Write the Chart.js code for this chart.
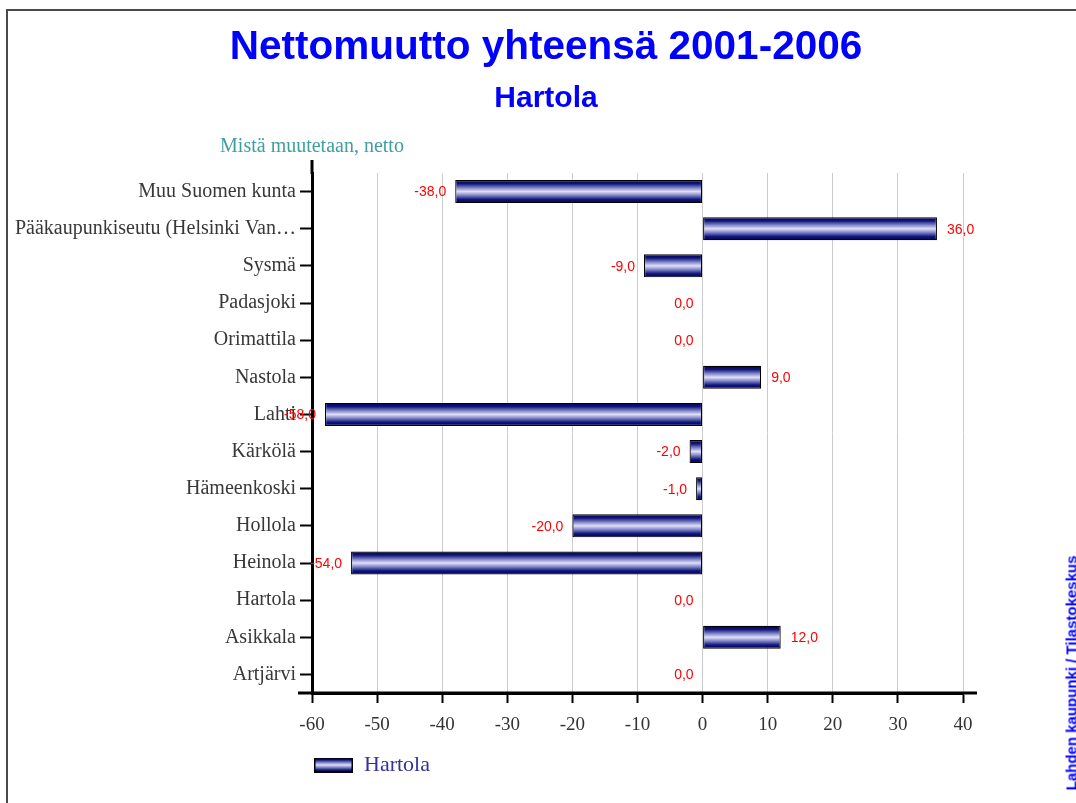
<!DOCTYPE html>
<html>
<head>
<meta charset="utf-8">
<script src="https://cdn.jsdelivr.net/npm/chart.js@4.4.1/dist/chart.umd.min.js"></script>
<style>
  html, body { margin: 0; padding: 0; background: #fff; overflow: hidden; }
  #wrap { position: relative; width: 1076px; height: 803px; }
  #frame { position: absolute; left: 6px; top: 9px; width: 1100px; height: 900px; border: 2px solid #4a4a4a; pointer-events: none; }
  .ttl { position: absolute; left: 0; width: 1092px; text-align: center; color: #0000ff;
         font-family: "Liberation Sans", Arial, sans-serif; font-weight: bold; white-space: nowrap; }
  #title { top: 21px; font-size: 40.5px; line-height: 48px; }
  #subtitle { top: 80px; font-size: 30px; line-height: 34px; }
  #credit { position: absolute; left: 1071px; top: 673px; transform: translate(-50%, -50%) rotate(-90deg);
            font: bold 15px "Liberation Sans", Arial, sans-serif; color: #0000ff; white-space: nowrap; }
  canvas { position: absolute; left: 0; top: 0; }
</style>
</head>
<body>
<div id="wrap">
  <div id="frame"></div>
  <canvas id="chart0" width="1076" height="803"></canvas>
  <div class="ttl" id="title"></div>
  <div class="ttl" id="subtitle"></div>
  <div id="credit"></div>
</div>
<script>
// data
const categories = ['Muu Suomen kunta', 'Pääkaupunkiseutu (Helsinki Van…', 'Sysmä', 'Padasjoki',
                    'Orimattila', 'Nastola', 'Lahti', 'Kärkölä', 'Hämeenkoski', 'Hollola',
                    'Heinola', 'Hartola', 'Asikkala', 'Artjärvi'];
const netMigration = [-38, 36, -9, 0, 0, 9, -58, -2, -1, -20, -54, 0, 12, 0];
const xMin = -60;
const xMax = 40;
const xStep = 10;
const seriesName = 'Hartola';
const chartTitle = 'Nettomuutto yhteensä 2001-2006';
const chartSubtitle = 'Hartola';
const axisCaption = 'Mistä muutetaan, netto';
const sourceNote = 'Lahden kaupunki / Tilastokeskus';

document.getElementById('title').textContent = chartTitle;
document.getElementById('subtitle').textContent = chartSubtitle;
document.getElementById('credit').textContent = sourceNote;

const serif = '"Liberation Serif", "Times New Roman", serif';
const sans = '"Liberation Sans", Arial, sans-serif';
const barPct = 0.62;

//navy - lavender - navy, across the bar thickness
function addStops(g) {
  g.addColorStop(0, '#000058');
  g.addColorStop(0.16, '#10157a');
  g.addColorStop(0.34, '#8086c8');
  g.addColorStop(0.5, '#e0e0f7');
  g.addColorStop(0.66, '#8086c8');
  g.addColorStop(0.84, '#10157a');
  g.addColorStop(1, '#000058');
  return g;
}

function barFill(c) {
  const chart = c.chart;
  const y = chart.scales.y;
  if (c.type !== 'data' || !y || !chart.chartArea) return '#3c4196';
  const mid = y.getPixelForValue(c.dataIndex);
  const half = y.height / categories.length * barPct / 2;
  return addStops(chart.ctx.createLinearGradient(0, mid - half, 0, mid + half));
}

// small picture for the legend swatch
const legendImg = document.createElement('canvas');
legendImg.width = 39;
legendImg.height = 15;
(function() {
  const g = legendImg.getContext('2d');
  g.fillStyle = addStops(g.createLinearGradient(0, 0, 0, 15));
  g.fillRect(0, 0, 39, 15);
  g.strokeStyle = '#000';
  g.lineWidth = 1.5;
  g.strokeRect(0.75, 0.75, 37.5, 13.5);
})();

// red value labels beside the bars
const valueLabels = {
  id: 'valueLabels',
  afterDatasetsDraw(chart) {
    const ctx = chart.ctx;
    const meta = chart.getDatasetMeta(0);
    const x0 = chart.scales.x.getPixelForValue(0);
    ctx.save();
    ctx.font = '14px ' + sans;
    ctx.fillStyle = '#ff0000';
    ctx.textBaseline = 'middle';
    meta.data.forEach((bar, i) => {
      const v = netMigration[i];
      const txt = v.toFixed(1).replace('.', ',');
      if (v > 0) {
        ctx.textAlign = 'left';
        ctx.fillText(txt, bar.x + 10, bar.y + 1);
      } else {
        ctx.textAlign = 'right';
        ctx.fillText(txt, (v < 0 ? bar.x : x0) - 9, bar.y + 1);
      }
    });
    ctx.restore();
  }
};

// axis lines run a little past the plot, caption above the y axis
const axisExtras = {
  id: 'axisExtras',
  afterDraw(chart) {
    const ctx = chart.ctx;
    const a = chart.chartArea;
    ctx.save();
    ctx.strokeStyle = '#000';
    ctx.lineWidth = 3;
    ctx.beginPath();
    ctx.moveTo(a.left, a.top - 13);
    ctx.lineTo(a.left, a.top + 1);
    ctx.moveTo(a.left - 14, a.bottom);
    ctx.lineTo(a.right + 14, a.bottom);
    ctx.stroke();
    ctx.font = '20px ' + serif;
    ctx.fillStyle = '#3f9f9f';
    ctx.textAlign = 'center';
    ctx.textBaseline = 'middle';
    ctx.fillText(axisCaption, a.left, a.top - 26);
    ctx.restore();
  }
};

let myChart = new Chart(document.getElementById('chart0').getContext('2d'), {
  type: 'bar',
  data: {
    labels: categories,
    datasets: [{
      label: seriesName,
      data: netMigration,
      backgroundColor: barFill,
      borderColor: '#000',
      borderWidth: 1.2,
      borderSkipped: false,
      barPercentage: barPct,
      categoryPercentage: 1
    }]
  },
  options: {
    indexAxis: 'y',
    responsive: false,
    animation: false,
    layout: { padding: { left: 5, right: 113, top: 173, bottom: 17 } },
    plugins: {
      title: { display: false },
      legend: {
        position: 'bottom',
        align: 'start',
        fullSize: false,
        labels: {
          usePointStyle: true,
          pointStyle: legendImg,
          pointStyleWidth: 39,
          boxHeight: 15,
          padding: 2,
          color: '#333399',
          font: { family: serif, size: 22 }
        }
      },
      tooltip: { enabled: false }
    },
    scales: {
      x: {
        type: 'linear',
        min: xMin,
        max: xMax,
        ticks: { stepSize: xStep, color: '#333', padding: 11, font: { family: serif, size: 19 } },
        grid: { color: '#cccccc', lineWidth: 1, tickColor: '#000', tickLength: 10, tickWidth: 2 },
        border: { color: '#000', width: 3 },
        afterFit(s) { s.height = 59; }
      },
      y: {
        ticks: { color: '#383838', padding: 4, autoSkip: false, font: { family: serif, size: 20 } },
        grid: { offset: false, drawOnChartArea: false, tickColor: '#000', tickLength: 12, tickWidth: 2 },
        border: { color: '#000', width: 3 },
        afterFit(s) { s.width = 307; }
      }
    }
  },
  plugins: [valueLabels, axisExtras]
});
</script>
</body>
</html>
